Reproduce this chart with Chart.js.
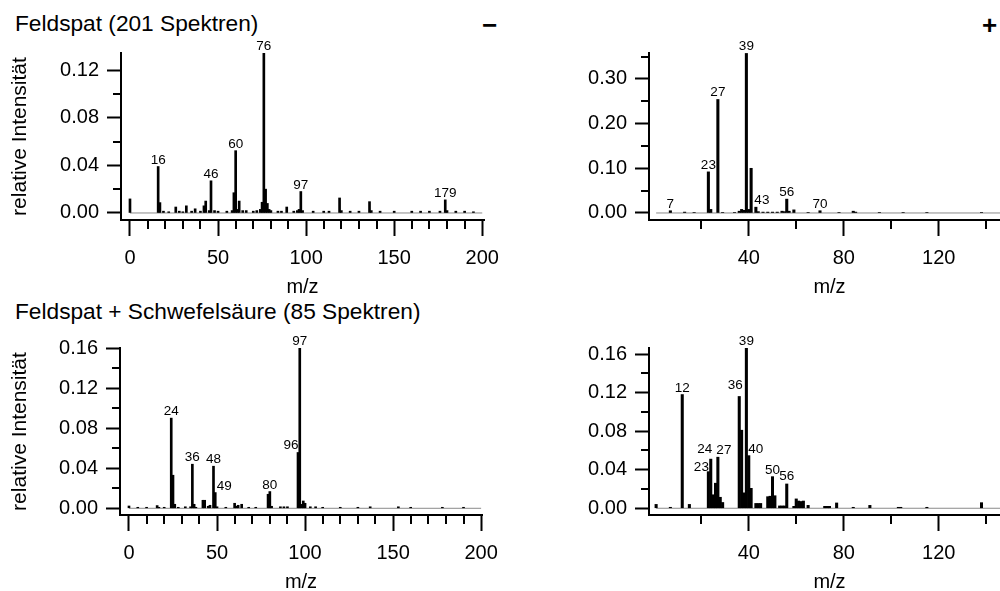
<!DOCTYPE html>
<html>
<head>
<meta charset="utf-8">
<script src="https://cdn.jsdelivr.net/npm/chart.js@4.4.0/dist/chart.umd.min.js"></script>
<style>
    html, body { margin: 0; padding: 0; background: #fff; overflow: hidden; }
    body { width: 1000px; height: 591px; position: relative; font-family: "Liberation Sans", Arial, sans-serif; color: #000; }
    canvas { position: absolute; }
    .title { position: absolute; font-size: 22.7px; line-height: 22px; white-space: nowrap; }
    .sign { position: absolute; font-size: 26px; line-height: 26px; font-weight: bold; }
</style>
</head>
<body>
<div class="title" style="left:15px; top:12px">Feldspat (201 Spektren)</div>
<div class="title" style="left:15px; top:300px">Feldspat + Schwefelsäure (85 Spektren)</div>
<div class="sign" style="left:482px; top:12px">−</div>
<div class="sign" style="left:982px; top:12px">+</div>

<canvas id="negFeld" width="500" height="300" style="left:0; top:0"></canvas>
<canvas id="posFeld" width="520" height="300" style="left:500px; top:0"></canvas>
<canvas id="negSulf" width="500" height="300" style="left:0; top:296px"></canvas>
<canvas id="posSulf" width="520" height="300" style="left:500px; top:296px"></canvas>

<script>
// Feldspat, negative ions
const negFeldMz = [0, 16, 17, 19, 22, 26, 28, 30, 32, 35, 37, 40, 42, 43, 45, 46, 48, 50, 55, 58, 59, 60, 61, 62, 64, 66, 70,
    72, 74, 75, 76, 77, 78, 79, 80, 84, 86, 89, 93, 95, 96, 97, 98, 104, 110, 113, 119, 120, 125, 130, 136, 137, 142,
    150, 160, 165, 170, 176, 179, 180, 185, 190, 195];
const negFeldInt = [0.0118, 0.039, 0.0087, 0.0015, 0.001, 0.005, 0.0015, 0.001, 0.006, 0.0015, 0.0035, 0.0015, 0.006, 0.010,
    0.002, 0.027, 0.002, 0.0015, 0.0015, 0.002, 0.017, 0.0523, 0.003, 0.010, 0.002, 0.002, 0.0015,
    0.002, 0.003, 0.009, 0.134, 0.020, 0.008, 0.003, 0.002, 0.0015, 0.0015, 0.005, 0.0015, 0.002, 0.003, 0.018, 0.002,
    0.0015, 0.0015, 0.0015, 0.0126, 0.002, 0.0015, 0.0015, 0.0095, 0.002, 0.0015,
    0.0015, 0.0015, 0.0015, 0.0015, 0.0015, 0.011, 0.002, 0.0015, 0.0015, 0.001];
const negFeldPeaks = [16, 46, 60, 76, 97, 179];

// Feldspat, positive ions
const posFeldMz = [7, 13, 17, 23, 24, 27, 29, 34, 36, 37, 38, 39, 40, 41, 43, 44, 46, 48, 50, 52, 54, 55, 56, 57, 59, 65,
    70, 78, 84, 85, 95, 105, 115, 138];
const posFeldInt = [0.005, 0.002, 0.001, 0.092, 0.008, 0.254, 0.001, 0.001, 0.004, 0.008, 0.006, 0.357, 0.008, 0.100, 0.013,
    0.003, 0.002, 0.002, 0.002, 0.002, 0.004, 0.003, 0.031, 0.004, 0.007, 0.001,
    0.005, 0.001, 0.004, 0.002, 0.001, 0.001, 0.001, 0.001];
const posFeldPeaks = [7, 23, 27, 39, 43, 56, 70];

// Feldspat + Schwefelsäure, negative ions
const negSulfMz = [0, 5, 10, 16, 17, 20, 24, 25, 26, 28, 32, 35, 36, 37, 38, 42, 43, 45, 46, 48, 49, 50, 55, 60, 61, 62, 64,
    68, 72, 79, 80, 81, 86, 88, 90, 96, 97, 98, 99, 100, 103, 106, 110, 120, 130, 137, 153, 160, 178, 190];
const negSulfInt = [0.0023, 0.001, 0.001, 0.0027, 0.001, 0.001, 0.090, 0.033, 0.004, 0.001, 0.0015, 0.0015, 0.044, 0.004,
    0.001, 0.008, 0.008, 0.002, 0.003, 0.042, 0.0157, 0.0015, 0.001, 0.005, 0.002, 0.003, 0.004,
    0.001, 0.001, 0.014, 0.0167, 0.002, 0.0015, 0.0015, 0.0015, 0.0557, 0.160, 0.004, 0.0073, 0.005, 0.0015, 0.0015,
    0.001, 0.001, 0.001, 0.0015, 0.0015, 0.001, 0.001, 0.001];
const negSulfPeaks = [24, 36, 48, 49, 80, 96, 97];

// Feldspat + Schwefelsäure, positive ions
const posSulfMz = [1, 7, 12, 15, 23, 24, 25, 26, 27, 28, 29, 36, 37, 38, 39, 40, 41, 43, 44, 45, 48, 49, 50, 51, 53, 54, 55,
    56, 59, 60, 61, 62, 63, 65, 72, 73, 74, 77, 84, 91, 103, 104, 115, 138];
const posSulfInt = [0.004, 0.001, 0.118, 0.004, 0.038, 0.051, 0.014, 0.026, 0.053, 0.0114, 0.006, 0.116, 0.081, 0.016, 0.166,
    0.0546, 0.0207, 0.005, 0.005, 0.005, 0.012, 0.0125, 0.0328, 0.013, 0.0024, 0.0024, 0.0024,
    0.0252, 0.002, 0.0097, 0.0075, 0.007, 0.0075, 0.003, 0.002, 0.002, 0.002, 0.0055, 0.001, 0.003, 0.001, 0.001, 0.001, 0.0058];
const posSulfPeaks = [12, 23, 24, 27, 36, 39, 40, 50, 56];

// gray zero line
const negBaseMz = [0, 200];
const posBaseMz = [1, 150];
const baseInt = [0, 0];

// axis ticks
const negXTicks = [0, 50, 100, 150, 200];
const negXMinor = [10, 20, 30, 40, 60, 70, 80, 90, 110, 120, 130, 140, 160, 170, 180, 190];
const posXTicks = [40, 80, 120];
const posXMinor = [20, 60, 100, 140];
const negFeldYTicks = [0, 0.04, 0.08, 0.12];
const negFeldYMinor = [0.02, 0.06, 0.10];
const posFeldYTicks = [0, 0.10, 0.20, 0.30];
const posFeldYMinor = [0.05, 0.15, 0.25, 0.35];
const sulfYTicks = [0, 0.04, 0.08, 0.12, 0.16];
const sulfYMinor = [0.02, 0.06, 0.10, 0.14];

Chart.defaults.font.family = '"Liberation Sans", Arial, sans-serif';
Chart.defaults.color = '#000';

// peak labels and minor ticks, placed with the chart's own scales
function decorPlugin(peaks, nudge, xMinor, yMinor)
{
    return {
        id: 'decor',
        afterDraw(chart) {
            const ctx = chart.ctx;
            const xs = chart.scales.x;
            const ys = chart.scales.y;
            const area = chart.chartArea;
            ctx.save();
            ctx.strokeStyle = '#000';
            ctx.lineWidth = 2;
            ctx.beginPath();
            for (const v of xMinor) {
                const px = Math.round(xs.getPixelForValue(v));
                ctx.moveTo(px, area.bottom);
                ctx.lineTo(px, area.bottom + 9);
            }
            for (const v of yMinor) {
                const py = Math.round(ys.getPixelForValue(v));
                ctx.moveTo(area.left - 1, py);
                ctx.lineTo(area.left - 8, py);
            }
            ctx.stroke();

            const meta = chart.getDatasetMeta(1);
            const data = chart.data.datasets[1].data;
            ctx.font = '13.5px "Liberation Sans", Arial, sans-serif';
            ctx.fillStyle = '#000';
            ctx.textAlign = 'center';
            ctx.textBaseline = 'alphabetic';
            for (const m of peaks) {
                const i = data.findIndex(p => p.x === m);
                if (i < 0) continue;
                const el = meta.data[i];
                const d = nudge[m] || [0, 0];
                ctx.fillText(String(m), el.x + d[0], el.y - 3 + d[1]);
            }
            ctx.restore();
        }
    };
}

function makeSpectrum(id, s)
{
    const bars = s.mz.map((m, i) => ({ x: m, y: s.int[i] }));
    const base = s.baseMz.map((m, i) => ({ x: m, y: baseInt[i] }));

    return new Chart(document.getElementById(id), {
        type: 'bar',
        data: {
            datasets: [
                {
                    type: 'line',
                    data: base,
                    borderColor: '#8a8a8a',
                    borderWidth: 1,
                    pointRadius: 0,
                    order: 2
                },
                {
                    type: 'bar',
                    data: bars,
                    backgroundColor: '#000',
                    borderWidth: 0,
                    barThickness: s.barWidth,
                    order: 1
                }
            ]
        },
        options: {
            responsive: false,
            animation: false,
            events: [],
            layout: { padding: { top: s.top, right: s.right, left: 0, bottom: 0 } },
            plugins: {
                legend: { display: false },
                tooltip: { enabled: false }
            },
            scales: {
                x: {
                    type: 'linear',
                    min: s.xMin,
                    max: s.xMax,
                    offset: false,
                    grid: { offset: false, drawOnChartArea: false, drawTicks: true, tickLength: 16, tickWidth: 2, tickColor: '#000' },
                    border: { display: true, color: '#000', width: 2 },
                    ticks: { font: { size: 20 }, padding: 10, maxRotation: 0, autoSkip: false, callback: v => String(v) },
                    afterBuildTicks: sc => { sc.ticks = s.xTicks.map(v => ({ value: v })); },
                    afterFit: sc => { sc.height = s.xHeight; sc.paddingLeft = 0; sc.paddingRight = 0; },
                    title: { display: true, text: 'm/z', font: { size: 20, lineHeight: 1 }, padding: { top: 0, bottom: s.mzPad } }
                },
                y: {
                    type: 'linear',
                    min: s.yMin,
                    max: s.yMax,
                    grid: { drawOnChartArea: false, drawTicks: true, tickLength: 14, tickWidth: 2, tickColor: '#000' },
                    border: { display: true, color: '#000', width: 2 },
                    ticks: { font: { size: 20 }, padding: 8, autoSkip: false, callback: v => v.toFixed(2) },
                    afterBuildTicks: sc => { sc.ticks = s.yTicks.map(v => ({ value: v })); },
                    afterFit: sc => { sc.width = s.yWidth; sc.paddingTop = 0; sc.paddingBottom = 0; },
                    title: { display: s.yTitle, text: 'relative Intensität', font: { size: 21, lineHeight: 1 }, padding: { top: 10, bottom: 0 } }
                }
            }
        },
        plugins: [decorPlugin(s.peaks, s.nudge, s.xMinor, s.yMinor)]
    });
}

makeSpectrum('negFeld', {
    mz: negFeldMz, int: negFeldInt, peaks: negFeldPeaks, nudge: {}, baseMz: negBaseMz, barWidth: 2,
    xMin: -5.1, xMax: 201, xTicks: negXTicks, xMinor: negXMinor,
    yMin: -0.0059, yMax: 0.1343, yTicks: negFeldYTicks, yMinor: negFeldYMinor,
    top: 53, right: 16, xHeight: 80, yWidth: 121, mzPad: 3, yTitle: true
});

makeSpectrum('posFeld', {
    mz: posFeldMz, int: posFeldInt, peaks: posFeldPeaks, nudge: { 43: [6, 0] }, baseMz: posBaseMz, barWidth: 2.4,
    xMin: -2, xMax: 150, xTicks: posXTicks, xMinor: posXMinor,
    yMin: -0.0157, yMax: 0.358, yTicks: posFeldYTicks, yMinor: posFeldYMinor,
    top: 53, right: 10, xHeight: 80, yWidth: 149, mzPad: 3, yTitle: false
});

makeSpectrum('negSulf', {
    mz: negSulfMz, int: negSulfInt, peaks: negSulfPeaks, nudge: { 49: [9, 0], 96: [-7, 0] }, baseMz: negBaseMz, barWidth: 2,
    xMin: -5.1, xMax: 200.5, xTicks: negXTicks, xMinor: negXMinor,
    yMin: -0.0067, yMax: 0.16, yTicks: sulfYTicks, yMinor: sulfYMinor,
    top: 52, right: 18, xHeight: 81, yWidth: 120, mzPad: 4, yTitle: true
});

makeSpectrum('posSulf', {
    mz: posSulfMz, int: posSulfInt, peaks: posSulfPeaks,
    nudge: { 23: [-7, 2], 24: [-6, -3], 27: [6, 0], 36: [-4, -4], 40: [7, 0], 56: [0, -1] },
    baseMz: posBaseMz, barWidth: 2.4,
    xMin: -2, xMax: 150, xTicks: posXTicks, xMinor: posXMinor,
    yMin: -0.007, yMax: 0.1663, yTicks: sulfYTicks, yMinor: sulfYMinor,
    top: 52, right: 10, xHeight: 81, yWidth: 149, mzPad: 4, yTitle: false
});
</script>
</body>
</html>
